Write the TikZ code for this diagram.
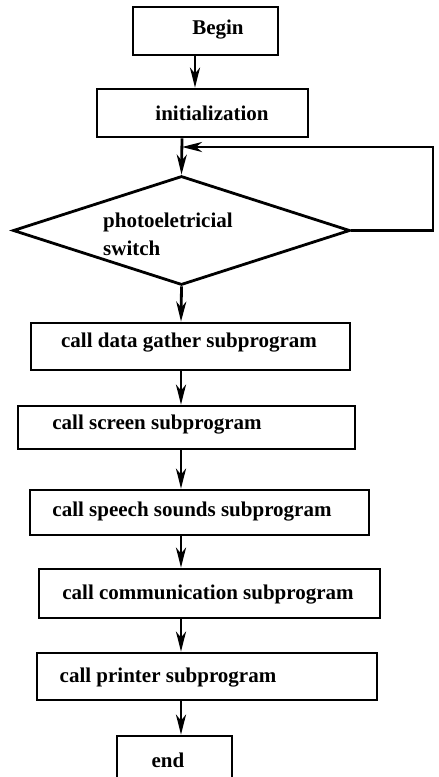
\documentclass[tikz,border=0pt]{standalone}
\usepackage{fontspec}
\setmainfont{Liberation Serif}
\usetikzlibrary{arrows.meta,shapes.geometric}
\tikzset{
  box/.style={draw,line width=2.8pt,rectangle,inner sep=0pt},
  dia/.style={draw,line width=2.8pt,diamond,inner sep=0pt},
  txt/.style={inner sep=0pt,font=\fontsize{21}{24}\selectfont\bfseries},
  arr/.style={line width=2.8pt,-{Stealth[length=20pt,width=10pt,inset=6pt]}},
  ln/.style={line width=2.8pt}
}
\begin{document}
\begin{tikzpicture}[x=1pt,y=-1pt]
\useasboundingbox (0,0) rectangle (439,777);
\clip (0,0) rectangle (439,777);
% boxes
\node[box,minimum width=145pt,minimum height=48pt] (begin) at (205.5,31) {};
\node[box,minimum width=211pt,minimum height=48pt] (init) at (202.5,113) {};
\node[dia,minimum width=337pt,minimum height=109pt] (sw) at (181.5,230.5) {};
\node[box,minimum width=319pt,minimum height=47pt] (data) at (190.5,346.5) {};
\node[box,minimum width=337pt,minimum height=43pt] (screen) at (186.5,427.5) {};
\node[box,minimum width=339pt,minimum height=45pt] (speech) at (199.5,512.5) {};
\node[box,minimum width=341pt,minimum height=49pt] (comm) at (209.5,593.5) {};
\node[box,minimum width=340pt,minimum height=47pt] (printer) at (207,676.5) {};
\node[box,minimum width=115pt,minimum height=54pt] (end) at (174.5,763) {};
% texts
\node[txt] (tbegin) at (218,30) {Begin};
\node[txt] (tinit) at (212,113) {initialization};
\node[txt,anchor=west] (tsw1) at (103,222) {photoeletricial};
\node[txt,anchor=west] (tsw2) at (103,248) {switch};
\node[txt] (tdata) at (189,343) {call data gather subprogram};
\node[txt] (tscreen) at (157,425) {call screen subprogram};
\node[txt] (tspeech) at (192,512) {call speech sounds subprogram};
\node[txt] (tcomm) at (208,595) {call communication subprogram};
\node[txt] (tprinter) at (168,678) {call printer subprogram};
\node[txt] (tend) at (168,760) {end};
% connectors
\coordinate (c1) at (195,0);
\coordinate (c2) at (182,0);
\coordinate (c3) at (181,0);
\coordinate (rt) at (433,147);
\draw[arr] (begin.south -| c1) -- (init.north -| c1);
\draw[arr] (init.south -| c2) -- (sw.north);
\draw[arr] (sw.east) -- (sw.east -| rt) -- (rt) -- (rt -| c2);
\draw[arr] (sw.south) -- (data.north -| c3);
\draw[arr] (data.south -| c3) -- (screen.north -| c3);
\draw[arr] (screen.south -| c3) -- (speech.north -| c3);
\draw[arr] (speech.south -| c3) -- (comm.north -| c3);
\draw[arr] (comm.south -| c3) -- (printer.north -| c3);
\draw[arr] (printer.south -| c3) -- (end.north -| c3);
\end{tikzpicture}
\end{document}
